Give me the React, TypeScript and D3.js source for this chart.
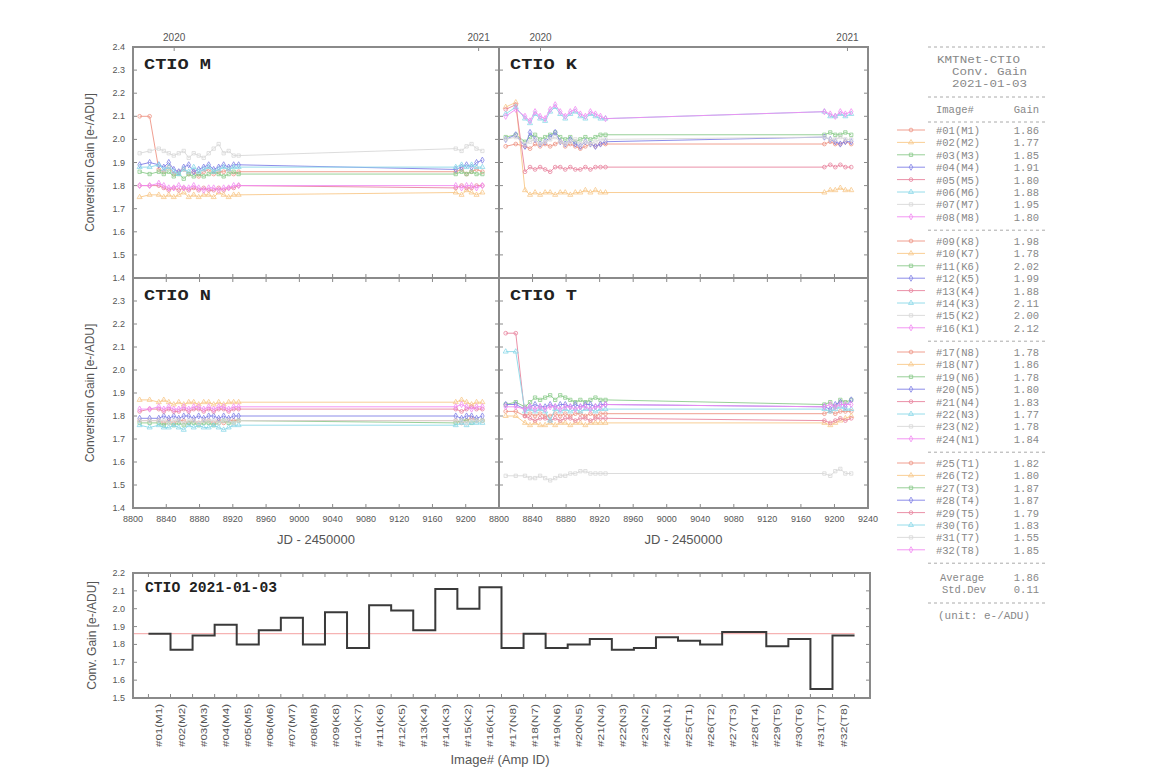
import React from 'react';
import * as d3 from 'd3';

// observation dates (JD - 2450000), shared by every amplifier
const jdDays = [8808, 8820, 8831, 8837, 8843, 8849, 8855, 8861, 8867, 8873, 8879, 8885, 8891, 8897, 8903, 8909, 8915, 8921, 8927, 9188, 9195, 9201, 9207, 9213, 9220];

// CTIO M chip
const m1 = [2.10, 2.10, 1.87, 1.86, 1.88, 1.85, 1.86, 1.87, 1.85, 1.86, 1.84, 1.86, 1.87, 1.85, 1.86, 1.86, 1.87, 1.85, 1.86, 1.86, 1.87, 1.85, 1.86, 1.87, 1.86];
const m2 = [1.75, 1.76, 1.76, 1.75, 1.76, 1.75, 1.76, 1.77, 1.75, 1.76, 1.75, 1.76, 1.76, 1.75, 1.77, 1.76, 1.75, 1.76, 1.76, 1.77, 1.76, 1.78, 1.77, 1.76, 1.77];
const m3 = [1.86, 1.85, 1.86, 1.85, 1.86, 1.84, 1.85, 1.83, 1.85, 1.84, 1.85, 1.84, 1.85, 1.86, 1.85, 1.84, 1.85, 1.86, 1.85, 1.85, 1.86, 1.85, 1.86, 1.85, 1.85];
const m4 = [1.89, 1.90, 1.89, 1.88, 1.90, 1.87, 1.86, 1.88, 1.89, 1.86, 1.87, 1.88, 1.89, 1.87, 1.88, 1.89, 1.88, 1.89, 1.89, 1.87, 1.88, 1.89, 1.88, 1.90, 1.91];
const m5 = [1.80, 1.80, 1.80, 1.79, 1.78, 1.79, 1.78, 1.79, 1.78, 1.79, 1.78, 1.79, 1.78, 1.78, 1.79, 1.78, 1.79, 1.79, 1.80, 1.79, 1.80, 1.79, 1.79, 1.80, 1.80];
const m6 = [1.88, 1.88, 1.89, 1.87, 1.88, 1.86, 1.85, 1.87, 1.86, 1.88, 1.86, 1.87, 1.88, 1.86, 1.87, 1.88, 1.87, 1.88, 1.88, 1.88, 1.89, 1.88, 1.89, 1.88, 1.88];
const m7 = [1.94, 1.95, 1.96, 1.95, 1.94, 1.93, 1.94, 1.95, 1.92, 1.94, 1.93, 1.92, 1.94, 1.96, 1.98, 1.94, 1.95, 1.93, 1.93, 1.96, 1.95, 1.97, 1.98, 1.96, 1.95];
const m8 = [1.80, 1.80, 1.81, 1.80, 1.79, 1.79, 1.80, 1.79, 1.79, 1.80, 1.79, 1.78, 1.79, 1.79, 1.78, 1.79, 1.79, 1.80, 1.80, 1.80, 1.79, 1.80, 1.80, 1.79, 1.80];

// CTIO K chip
const k8 = [1.97, 1.98, 1.97, 1.96, 1.98, 1.97, 1.98, 1.97, 1.98, 1.99, 1.97, 1.98, 1.97, 1.96, 1.97, 1.98, 1.97, 1.98, 1.98, 1.98, 1.99, 1.98, 1.98, 1.99, 1.98];
const k7 = [2.14, 2.16, 1.78, 1.76, 1.77, 1.76, 1.77, 1.77, 1.76, 1.77, 1.77, 1.76, 1.77, 1.77, 1.78, 1.77, 1.78, 1.77, 1.77, 1.77, 1.78, 1.78, 1.79, 1.78, 1.78];
const k6 = [2.01, 2.02, 1.99, 2.01, 2.02, 2.00, 2.01, 2.02, 2.03, 2.01, 2.00, 2.01, 1.99, 2.00, 2.01, 2.00, 2.01, 2.02, 2.02, 2.02, 2.03, 2.02, 2.02, 2.03, 2.02];
const k5 = [2.00, 2.02, 1.97, 2.03, 2.00, 1.98, 1.99, 2.01, 2.03, 1.99, 1.98, 2.00, 1.98, 1.97, 1.99, 1.98, 1.97, 1.98, 1.99, 2.01, 2.00, 1.99, 1.98, 1.99, 1.99];
const k4 = [2.13, 2.15, 1.86, 1.88, 1.87, 1.88, 1.87, 1.86, 1.88, 1.88, 1.87, 1.88, 1.87, 1.87, 1.88, 1.87, 1.88, 1.88, 1.88, 1.88, 1.89, 1.88, 1.89, 1.88, 1.88];
const k3 = [2.11, 2.14, 2.09, 2.07, 2.11, 2.09, 2.08, 2.12, 2.14, 2.11, 2.09, 2.11, 2.12, 2.10, 2.09, 2.11, 2.10, 2.09, 2.09, 2.12, 2.10, 2.10, 2.11, 2.10, 2.11];
const k2 = [2.00, 2.01, 1.98, 1.99, 2.00, 1.98, 1.99, 2.00, 2.01, 1.99, 1.98, 1.99, 2.00, 1.98, 1.99, 1.98, 1.99, 2.00, 2.00, 2.01, 2.00, 2.00, 2.01, 2.00, 2.00];
const k1 = [2.10, 2.13, 2.10, 2.08, 2.12, 2.10, 2.09, 2.13, 2.15, 2.12, 2.10, 2.12, 2.13, 2.11, 2.10, 2.12, 2.11, 2.10, 2.09, 2.12, 2.11, 2.10, 2.12, 2.11, 2.12];

// CTIO N chip
const n8 = [1.78, 1.78, 1.78, 1.77, 1.78, 1.77, 1.78, 1.78, 1.77, 1.78, 1.77, 1.78, 1.78, 1.77, 1.78, 1.77, 1.78, 1.78, 1.78, 1.78, 1.77, 1.78, 1.79, 1.78, 1.78];
const n7 = [1.87, 1.87, 1.86, 1.87, 1.86, 1.85, 1.86, 1.85, 1.86, 1.86, 1.85, 1.86, 1.86, 1.85, 1.86, 1.85, 1.86, 1.86, 1.86, 1.86, 1.87, 1.86, 1.85, 1.86, 1.86];
const n6 = [1.77, 1.77, 1.77, 1.76, 1.77, 1.76, 1.77, 1.76, 1.77, 1.77, 1.76, 1.77, 1.77, 1.76, 1.77, 1.78, 1.77, 1.77, 1.78, 1.77, 1.78, 1.78, 1.77, 1.78, 1.78];
const n5 = [1.79, 1.79, 1.79, 1.80, 1.79, 1.80, 1.79, 1.80, 1.80, 1.79, 1.80, 1.79, 1.80, 1.80, 1.79, 1.80, 1.79, 1.80, 1.80, 1.80, 1.79, 1.80, 1.80, 1.79, 1.80];
const n4 = [1.82, 1.83, 1.83, 1.82, 1.83, 1.82, 1.82, 1.83, 1.82, 1.83, 1.83, 1.82, 1.83, 1.82, 1.83, 1.83, 1.82, 1.83, 1.83, 1.83, 1.82, 1.83, 1.84, 1.83, 1.83];
const n3 = [1.76, 1.75, 1.76, 1.75, 1.75, 1.76, 1.75, 1.74, 1.76, 1.75, 1.76, 1.75, 1.75, 1.76, 1.75, 1.74, 1.75, 1.76, 1.76, 1.76, 1.77, 1.76, 1.77, 1.77, 1.77];
const n2 = [1.78, 1.78, 1.78, 1.78, 1.77, 1.78, 1.78, 1.77, 1.78, 1.78, 1.77, 1.78, 1.78, 1.78, 1.77, 1.78, 1.78, 1.77, 1.78, 1.78, 1.78, 1.77, 1.78, 1.78, 1.78];
const n1 = [1.83, 1.83, 1.84, 1.83, 1.84, 1.83, 1.83, 1.84, 1.83, 1.84, 1.84, 1.83, 1.84, 1.83, 1.84, 1.84, 1.83, 1.84, 1.84, 1.84, 1.85, 1.84, 1.83, 1.84, 1.84];

// CTIO T chip
const t1 = [1.82, 1.82, 1.80, 1.81, 1.80, 1.81, 1.80, 1.80, 1.81, 1.80, 1.81, 1.80, 1.81, 1.81, 1.80, 1.81, 1.80, 1.81, 1.81, 1.81, 1.82, 1.81, 1.82, 1.82, 1.82];
const t2 = [1.80, 1.80, 1.77, 1.76, 1.77, 1.76, 1.76, 1.77, 1.76, 1.77, 1.77, 1.76, 1.77, 1.77, 1.76, 1.77, 1.77, 1.77, 1.77, 1.77, 1.76, 1.77, 1.78, 1.79, 1.80];
const t3 = [1.85, 1.86, 1.84, 1.86, 1.88, 1.87, 1.88, 1.89, 1.87, 1.89, 1.88, 1.87, 1.86, 1.87, 1.86, 1.87, 1.88, 1.87, 1.87, 1.85, 1.86, 1.84, 1.87, 1.86, 1.87];
const t4 = [1.85, 1.85, 1.83, 1.84, 1.85, 1.84, 1.84, 1.85, 1.84, 1.85, 1.85, 1.84, 1.85, 1.84, 1.85, 1.85, 1.84, 1.85, 1.85, 1.84, 1.83, 1.85, 1.86, 1.84, 1.87];
const t5 = [2.16, 2.16, 1.80, 1.79, 1.78, 1.79, 1.79, 1.78, 1.79, 1.78, 1.79, 1.79, 1.78, 1.79, 1.79, 1.78, 1.79, 1.79, 1.79, 1.78, 1.77, 1.78, 1.79, 1.78, 1.79];
const t6 = [2.08, 2.08, 1.82, 1.83, 1.82, 1.83, 1.82, 1.78, 1.83, 1.82, 1.83, 1.82, 1.83, 1.82, 1.83, 1.83, 1.82, 1.83, 1.83, 1.83, 1.82, 1.83, 1.84, 1.83, 1.83];
const t7 = [1.54, 1.54, 1.54, 1.53, 1.53, 1.54, 1.53, 1.52, 1.53, 1.54, 1.54, 1.55, 1.55, 1.56, 1.56, 1.55, 1.55, 1.55, 1.55, 1.55, 1.54, 1.56, 1.57, 1.55, 1.55];
const t8 = [1.84, 1.84, 1.83, 1.84, 1.83, 1.84, 1.83, 1.84, 1.84, 1.83, 1.84, 1.84, 1.83, 1.84, 1.84, 1.83, 1.84, 1.84, 1.85, 1.84, 1.85, 1.84, 1.85, 1.85, 1.85];

// 2021-01-03 summary
const ampIds = ['M1', 'M2', 'M3', 'M4', 'M5', 'M6', 'M7', 'M8', 'K8', 'K7', 'K6', 'K5', 'K4', 'K3', 'K2', 'K1', 'N8', 'N7', 'N6', 'N5', 'N4', 'N3', 'N2', 'N1', 'T1', 'T2', 'T3', 'T4', 'T5', 'T6', 'T7', 'T8'];
const gains = [1.86, 1.77, 1.85, 1.91, 1.80, 1.88, 1.95, 1.80, 1.98, 1.78, 2.02, 1.99, 1.88, 2.11, 2.00, 2.12, 1.78, 1.86, 1.78, 1.80, 1.83, 1.77, 1.78, 1.84, 1.82, 1.80, 1.87, 1.87, 1.79, 1.83, 1.55, 1.85];
const avgGain = 1.86;
const stdGain = 0.11;

const seriesColors = ['#ee9484', '#f8c88a', '#8ccb8c', '#8080e6', '#e8849e', '#8ad8e8', '#d8d8d8', '#f28af2'];
const yearTicks = [{ jd: 8849.5, label: '2020' }, { jd: 9215.5, label: '2021' }];

const sans = '"Liberation Sans", Arial, sans-serif';
const mono = '"Liberation Mono", "Courier New", monospace';
const frame = '#8a8a8a';
const txt = '#555';

const symbols = [d3.symbolCircle, d3.symbolTriangle, d3.symbolSquare, d3.symbolDiamond, d3.symbolCircle, d3.symbolTriangle, d3.symbolSquare, d3.symbolDiamond];

function Marker({ cx, cy, i }) {
  const p = d3.symbol().type(symbols[i]).size(11)();
  return <path d={p} transform={`translate(${cx},${cy})`} fill="none" stroke={seriesColors[i]} strokeWidth={0.8} />;
}

function Panel({ title, series, x0, x1, y0, y1, top, bottom, leftLabels }) {
  const x = d3.scaleLinear().domain([8800, 9240]).range([x0, x1]);
  const y = d3.scaleLinear().domain([1.4, 2.4]).range([y1, y0]);
  const line = d3.line<number>().x((_, i) => x(jdDays[i])).y((d) => y(d));
  const xt = d3.range(8800, 9241, 40);
  const yt = d3.range(14, 25).map((v) => v / 10);
  return (
    <g>
      {series.map((s, si) => (
        <g key={si}>
          <path d={line(s)} fill="none" stroke={seriesColors[si]} strokeWidth={0.9} />
          {s.map((v, j) => <Marker key={j} cx={x(jdDays[j])} cy={y(v)} i={si} />)}
        </g>
      ))}
      {xt.map((t) => (
        <g key={t}>
          <line x1={x(t)} x2={x(t)} y1={y1} y2={y1 - 4} stroke={frame} />
          {!top && <line x1={x(t)} x2={x(t)} y1={y0} y2={y0 + 4} stroke={frame} />}
        </g>
      ))}
      {top && yearTicks.map((t) => (
        <g key={t.label}>
          <line x1={x(t.jd)} x2={x(t.jd)} y1={y0} y2={y0 + 4} stroke={frame} />
          <text x={x(t.jd)} y={y0 - 6} textAnchor="middle" fontSize={10} fill={txt} fontFamily={sans}>{t.label}</text>
        </g>
      ))}
      {yt.map((t) => (
        <g key={t}>
          <line x1={x0} x2={x0 + 4} y1={y(t)} y2={y(t)} stroke={frame} />
          <line x1={x1} x2={x1 - 4} y1={y(t)} y2={y(t)} stroke={frame} />
          {leftLabels && (top || t < 2.35) && (
            <text x={x0 - 8} y={y(t) + 3} textAnchor="end" fontSize={9} fill={txt} fontFamily={sans}>{t.toFixed(1)}</text>
          )}
        </g>
      ))}
      {bottom && xt.filter((t) => leftLabels ? t < 9240 : true).map((t) => (
        <text key={t} x={x(t)} y={y1 + 14} textAnchor="middle" fontSize={9} fill={txt} fontFamily={sans}>{t}</text>
      ))}
      <rect x={x0} y={y0} width={x1 - x0} height={y1 - y0} fill="none" stroke={frame} strokeWidth={2} />
      <text x={x0 + 11} y={y0 + 22} fontSize={15} fontWeight="bold" fontFamily={mono} fill="#222" textLength={67} lengthAdjust="spacingAndGlyphs">{title}</text>
    </g>
  );
}

function Summary() {
  const x0 = 133, x1 = 870, y0 = 573, y1 = 698;
  const x = d3.scaleLinear().domain([-0.2, 33.2]).range([x0, x1]);
  const y = d3.scaleLinear().domain([1.5, 2.2]).range([y1, y0]);
  const pts: [number, number][] = [[0.5, gains[0]], ...gains.map((g, i) => [i + 1, g] as [number, number]), [32.5, gains[gains.length - 1]]];
  const step = d3.line<[number, number]>().curve(d3.curveStep).x((d) => x(d[0])).y((d) => y(d[1]));
  const xt = d3.range(0.5, 33, 1);
  const yt = d3.range(15, 23).map((v) => v / 10);
  return (
    <g>
      <line x1={x0} x2={x(32.5)} y1={y(avgGain)} y2={y(avgGain)} stroke="#f4a0a0" strokeWidth={1} />
      <path d={step(pts)} fill="none" stroke="#3a3a3a" strokeWidth={2} />
      {xt.map((t) => (
        <g key={t}>
          <line x1={x(t)} x2={x(t)} y1={y1} y2={y1 - 4} stroke={frame} />
          <line x1={x(t)} x2={x(t)} y1={y0} y2={y0 + 4} stroke={frame} />
        </g>
      ))}
      {yt.map((t) => (
        <g key={t}>
          <line x1={x0} x2={x0 + 4} y1={y(t)} y2={y(t)} stroke={frame} />
          <line x1={x1} x2={x1 - 4} y1={y(t)} y2={y(t)} stroke={frame} />
          <text x={x0 - 8} y={y(t) + 3} textAnchor="end" fontSize={9} fill={txt} fontFamily={sans}>{t.toFixed(1)}</text>
        </g>
      ))}
      {ampIds.map((a, i) => (
        <text key={a} transform={`translate(${x(i + 1) + 3},${y1 + 6}) rotate(-90)`} textAnchor="end" fontSize={9} fill={txt} fontFamily={sans} textLength={43} lengthAdjust="spacingAndGlyphs">
          {`#${String(i + 1).padStart(2, '0')}(${a})`}
        </text>
      ))}
      <rect x={x0} y={y0} width={x1 - x0} height={y1 - y0} fill="none" stroke={frame} strokeWidth={2} />
      <text x={x0 + 12} y={y0 + 19} fontSize={14} fontWeight="bold" fontFamily={mono} fill="#222" textLength={132} lengthAdjust="spacingAndGlyphs">CTIO 2021-01-03</text>
      <text transform={`translate(96,${(y0 + y1) / 2}) rotate(-90)`} textAnchor="middle" fontSize={12} fill={txt} fontFamily={sans}>Conv. Gain [e-/ADU]</text>
      <text x={500} y={764} textAnchor="middle" fontSize={13} fill={txt} fontFamily={sans}>Image# (Amp ID)</text>
    </g>
  );
}

function Legend() {
  const lx = 936, rx = 1039, rowH = 12.4;
  const sep = (yy: number) => (
    <line x1={928} x2={1047} y1={yy} y2={yy} stroke="#aaa" strokeWidth={1} strokeDasharray="3,3" />
  );
  const groups = [0, 1, 2, 3];
  const groupTop = [133, 244, 355, 466];
  return (
    <g fontFamily={mono} fontSize={10.5} fill="#888">
      {sep(47)}
      <text x={937} y={63} textLength={83} lengthAdjust="spacingAndGlyphs">KMTNet-CTIO</text>
      <text x={952} y={75} textLength={75} lengthAdjust="spacingAndGlyphs">Conv. Gain</text>
      <text x={952} y={87} textLength={75} lengthAdjust="spacingAndGlyphs">2021-01-03</text>
      {sep(97)}
      <text x={lx} y={113}>Image#</text>
      <text x={rx} y={113} textAnchor="end">Gain</text>
      {sep(122)}
      {groups.map((g) => (
        <g key={g}>
          {d3.range(8).map((k) => {
            const idx = g * 8 + k;
            const yy = groupTop[g] + k * rowH;
            return (
              <g key={k}>
                <line x1={897} x2={925} y1={yy - 3} y2={yy - 3} stroke={seriesColors[k]} strokeWidth={0.9} />
                <Marker cx={911} cy={yy - 3} i={k} />
                <text x={lx} y={yy + 1}>{`#${String(idx + 1).padStart(2, '0')}(${ampIds[idx]})`}</text>
                <text x={rx} y={yy + 1} textAnchor="end">{gains[idx].toFixed(2)}</text>
              </g>
            );
          })}
          {sep(groupTop[g] + 8 * rowH - 2)}
        </g>
      ))}
      <text x={940} y={581}>Average</text>
      <text x={rx} y={581} textAnchor="end">{avgGain.toFixed(2)}</text>
      <text x={942} y={593}>Std.Dev</text>
      <text x={rx} y={593} textAnchor="end">{stdGain.toFixed(2)}</text>
      {sep(603)}
      <text x={938} y={619} textLength={92} lengthAdjust="spacingAndGlyphs">(unit: e-/ADU)</text>
    </g>
  );
}

export default function App() {
  const lx0 = 133, mx = 499, rx1 = 868;
  const r0 = 47, r1 = 278, r2 = 508;
  return (
    <svg width={1151} height={779} style={{ position: 'absolute', left: 0, top: 0, background: '#fff' }}>
      <rect width={1151} height={779} fill="#fff" />
      <Panel title="CTIO M" series={[m1, m2, m3, m4, m5, m6, m7, m8]} x0={lx0} x1={mx} y0={r0} y1={r1} top bottom={false} leftLabels />
      <Panel title="CTIO K" series={[k8, k7, k6, k5, k4, k3, k2, k1]} x0={mx} x1={rx1} y0={r0} y1={r1} top bottom={false} leftLabels={false} />
      <Panel title="CTIO N" series={[n8, n7, n6, n5, n4, n3, n2, n1]} x0={lx0} x1={mx} y0={r1} y1={r2} top={false} bottom leftLabels />
      <Panel title="CTIO T" series={[t1, t2, t3, t4, t5, t6, t7, t8]} x0={mx} x1={rx1} y0={r1} y1={r2} top={false} bottom leftLabels={false} />
      <text transform={`translate(94,${(r0 + r1) / 2}) rotate(-90)`} textAnchor="middle" fontSize={12} fill={txt} fontFamily={sans}>Conversion Gain [e-/ADU]</text>
      <text transform={`translate(94,${(r1 + r2) / 2}) rotate(-90)`} textAnchor="middle" fontSize={12} fill={txt} fontFamily={sans}>Conversion Gain [e-/ADU]</text>
      <text x={(lx0 + mx) / 2} y={544} textAnchor="middle" fontSize={13} fill={txt} fontFamily={sans}>JD - 2450000</text>
      <text x={(mx + rx1) / 2} y={544} textAnchor="middle" fontSize={13} fill={txt} fontFamily={sans}>JD - 2450000</text>
      <Summary />
      <Legend />
    </svg>
  );
}
